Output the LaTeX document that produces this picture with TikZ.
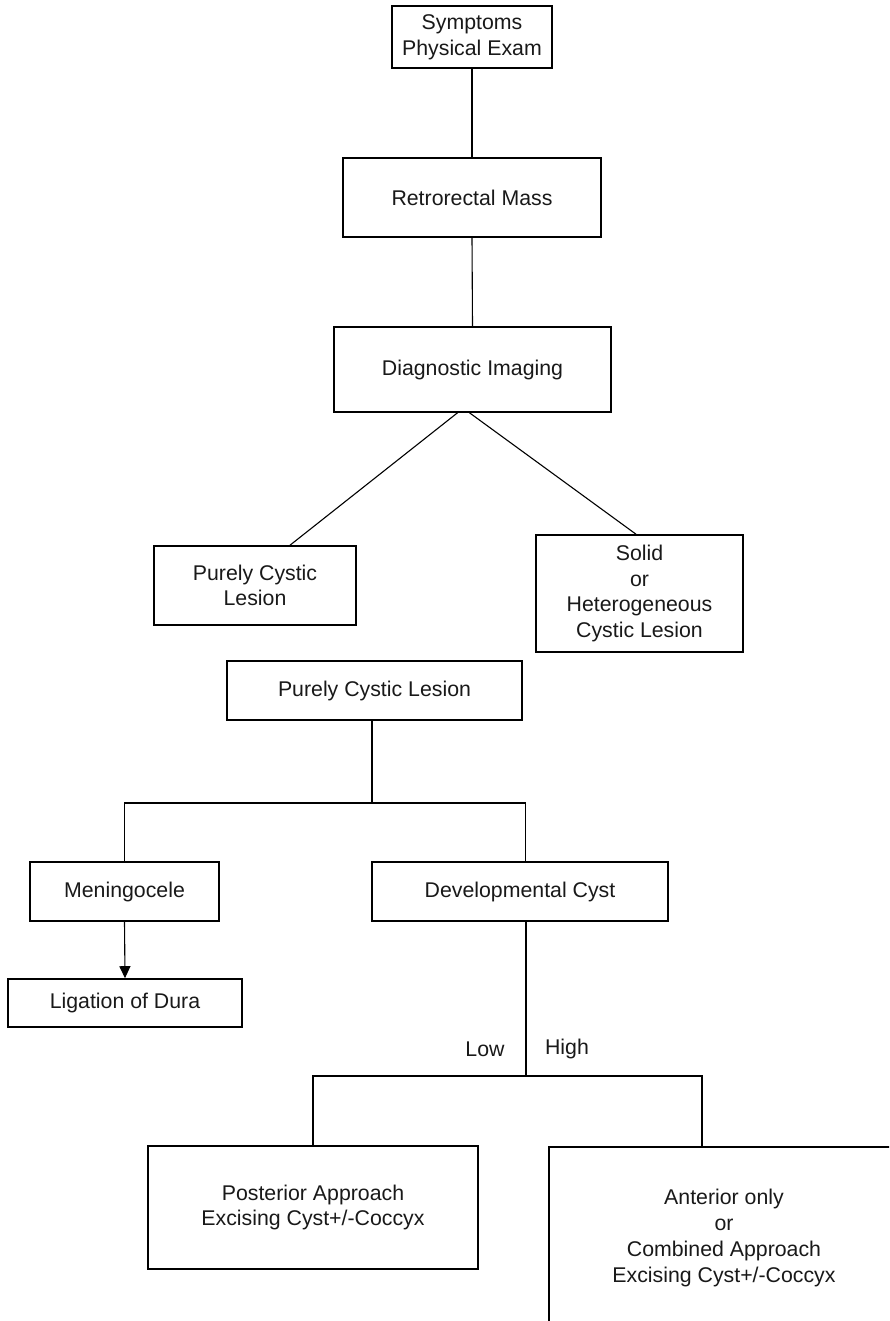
\documentclass[tikz,border=0pt]{standalone}
\usepackage{fontspec}
\setmainfont{Liberation Sans}
\usetikzlibrary{arrows.meta}
\begin{document}
\begin{tikzpicture}[x=1pt,y=-1pt,
  box/.style={draw=black,line width=1.6pt,inner sep=0pt,align=center,
    font=\fontsize{21.3}{25.7}\selectfont,text=black!90},
  conn/.style={draw=black,line width=1.1pt},
  lbl/.style={inner sep=0pt,font=\fontsize{21.3}{25.7}\selectfont,text=black!90}]
\useasboundingbox (0,0) rectangle (889,1321);
\clip (0,0) rectangle (889,1321);
\fill[white] (0,0) rectangle (889,1321);
% nodes
\node[box,minimum width=160pt,minimum height=62pt] (sym) at (472,37) {Symptoms\\Physical Exam};
\node[box,minimum width=258pt,minimum height=79pt] (ret) at (472,197.5) {Retrorectal Mass};
\node[box,minimum width=277pt,minimum height=85pt] (diag) at (472.5,369.5) {Diagnostic Imaging};
\node[box,minimum width=202pt,minimum height=79pt] (pcl1) at (255,585.5) {Purely Cystic\\Lesion};
\node[box,minimum width=207pt,minimum height=117pt] (solid) at (639.5,593.5) {Solid\\or\\Heterogeneous\\Cystic Lesion};
\node[box,minimum width=295pt,minimum height=59pt] (pcl2) at (374.5,690.5) {Purely Cystic Lesion};
\node[box,minimum width=189pt,minimum height=59pt] (men) at (124.5,891.5) {Meningocele};
\node[box,minimum width=296pt,minimum height=59pt] (dev) at (520,891.5) {Developmental Cyst};
\node[box,minimum width=234pt,minimum height=48pt] (lig) at (125,1003) {Ligation of Dura};
\node[box,minimum width=330pt,minimum height=123pt] (post) at (313,1207.5) {Posterior Approach\\Excising Cyst+/-Coccyx};
\node[box,minimum width=350pt,minimum height=182pt] (ant) at (724,1238) {Anterior only\\or\\Combined Approach\\Excising Cyst+/-Coccyx};
\node[lbl] (low) at (485,1049) {Low};
\node[lbl] (high) at (567,1049) {High};
% connectors
\draw[conn] (sym.south) -- (ret.north);
\draw[conn] (ret.south) -- (diag.north);
\draw[conn] ([xshift=-15]diag.south) -- ([xshift=35]pcl1.north);
\draw[conn] ([xshift=-3]diag.south) -- ([xshift=-3.5]solid.north);
\coordinate (b1) at (372,803);
\draw[conn] (pcl2.south -| b1) -- (b1);
\draw[conn] (men.north) |- (b1) -| ([xshift=5.5]dev.north);
\draw[conn,-{Triangle[length=12pt,width=11pt]}] (men.south) -- (lig.north);
\coordinate (b2) at (526,1076);
\draw[conn] (dev.south -| b2) -- (b2);
\draw[conn] (post.north) |- (b2) -| ([xshift=-22]ant.north);
\end{tikzpicture}
\end{document}
